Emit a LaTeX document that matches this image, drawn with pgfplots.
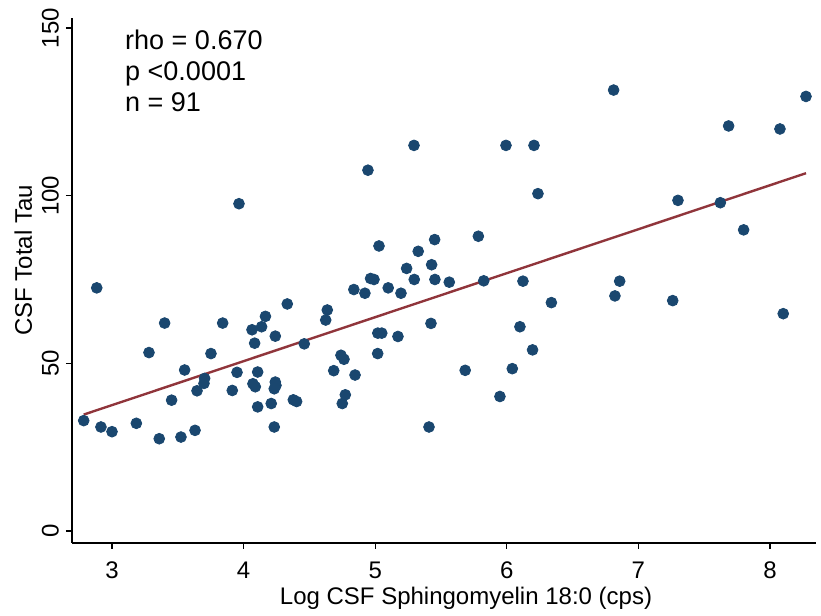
\documentclass[border=0pt]{standalone}
\usepackage{fontspec}
\setmainfont{Liberation Sans}
\usepackage{pgfplots}
\pgfplotsset{compat=1.18}
\usetikzlibrary{calc}
\definecolor{stnavy}{HTML}{1A476F}
\definecolor{stmaroon}{HTML}{90353B}

\pgfplotstableread{
x y
2.884 72.5
4.332 67.7
3.400 62.0
3.841 62.0
4.166 64.0
4.064 60.0
4.137 60.9
4.241 58.1
4.084 56.0
4.461 55.8
3.281 53.2
3.752 52.9
3.552 48.0
3.950 47.3
4.107 47.4
3.704 45.5
3.699 44.0
4.071 43.9
4.089 43.0
4.241 44.4
4.246 43.4
4.233 42.4
3.646 41.8
3.914 41.9
3.453 39.0
4.378 39.1
4.403 38.6
4.210 38.0
4.107 37.0
2.785 32.9
2.916 31.0
3.000 29.6
3.185 32.1
4.233 31.0
3.359 27.5
3.524 28.0
3.631 30.0
3.965 97.6
5.029 85.0
5.452 86.9
5.327 83.4
5.239 78.3
5.429 79.4
4.965 75.3
4.991 75.0
5.297 75.0
5.454 75.0
5.563 74.2
4.838 72.0
4.922 70.9
5.099 72.5
5.196 70.9
4.636 65.9
4.624 62.9
5.424 61.9
5.020 59.0
5.050 59.0
5.173 58.0
5.019 52.9
4.740 52.4
4.763 51.2
4.685 47.8
4.847 46.5
4.773 40.6
4.750 38.0
5.409 31.0
5.295 115.0
4.945 107.6
5.994 115.0
6.207 115.0
6.237 100.6
5.784 87.9
5.825 74.6
6.123 74.5
6.339 68.1
6.100 60.9
6.196 54.0
5.684 47.9
6.042 48.4
5.948 40.1
6.812 131.5
8.274 129.6
7.686 120.8
8.076 119.9
7.301 98.6
7.623 97.9
7.800 89.8
6.858 74.5
6.822 70.1
7.261 68.7
8.101 64.8
}\taudata

\begin{document}
\begin{tikzpicture}
\begin{axis}[
  scale only axis,
  width=372pt, height=262.5pt,
  xmin=2.696, xmax=8.35,
  ymin=-3.6, ymax=153,
  axis x line*=bottom,
  axis y line*=left,
  axis line style={black, line width=0.7pt},
  tick style={black, line width=0.6pt},
  tick align=outside,
  major tick length=3pt,
  xtick={3,4,5,6,7,8},
  ytick={0,50,100,150},
  font=\fontsize{12}{14.4}\selectfont,
  /pgf/number format/assume math mode=true,
  yticklabel style={rotate=90, anchor=south},
  xticklabel style={yshift=-3pt},
  xlabel={Log CSF Sphingomyelin 18:0 (cps)},
  ylabel={CSF Total Tau},
  xlabel style={xshift=11pt, yshift=3pt},
  ylabel style={xshift=10pt, yshift=-2pt},
  clip=false,
]
\addplot[only marks, mark=*, mark size=2.7pt, color=stnavy] table[x=x, y=y] {\taudata};
\addplot[no marks, color=stmaroon, line width=1.2pt] coordinates {(2.785,34.7)(8.274,106.7)};
\node[anchor=west, align=left, font=\fontsize{13.5}{15.5}\selectfont, inner sep=0pt]
  at (rel axis cs:0.071,0.899) {rho = 0.670\\p <0.0001\\n = 91};
\end{axis}
\path ($(current axis.south west)+(-36pt,-34pt)$) rectangle ($(current axis.north east)+(2.5pt,9pt)$);
\end{tikzpicture}
\end{document}
